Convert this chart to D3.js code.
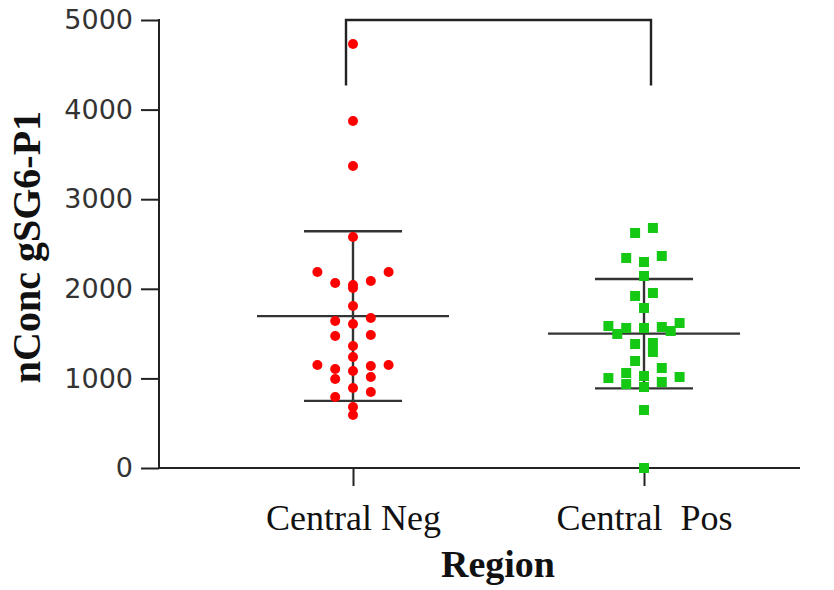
<!DOCTYPE html>
<html>
<head>
<meta charset="utf-8">
<script src="https://cdn.jsdelivr.net/npm/d3@7"></script>
<style>
  html, body { margin: 0; padding: 0; background: #fff; }
  svg { display: block; }
</style>
</head>
<body>
<svg id="chart" width="834" height="590"></svg>
<script>
// ---- data ----
const categories = ["Central Neg", "Central  Pos"];
const negValues = [4732, 3873, 3371, 2578, 2188, 2188, 2087, 2065, 2042, 2009,
                   1808, 1674, 1641, 1607, 1484, 1473, 1362, 1239, 1150, 1150,
                   1138, 1105, 1083, 1016, 993, 893, 848, 792, 681, 592];
const posValues = [2679, 2623, 2366, 2344, 2299, 2143, 1953, 1920, 1786, 1618,
                   1585, 1574, 1563, 1563, 1529, 1496, 1395, 1384, 1295, 1194,
                   1116, 1060, 1027, 1016, 1004, 960, 937, 904, 647, 0];
const yTicks = [0, 1000, 2000, 3000, 4000, 5000];
const yTitle = "nConc gSG6-P1";
const xTitle = "Region";

// ---- layout ----
const svg = d3.select("#chart");
const axisX0 = 159, axisX1 = 800;
const y = d3.scaleLinear().domain([0, 5000]).range([468, 20]);
const x = d3.scalePoint().domain(categories).range([353, 644]).padding(0);
const colStep = 17.8;
const binSize = 170;
const stroke = "#222";

// row-binned symmetric scatter layout
function layoutPoints(values) {
  const bins = d3.group(values.map((v, i) => ({v, i})), d => Math.floor(d.v / binSize));
  const out = [];
  for (const [, pts] of bins) {
    pts.sort((a, b) => a.v - b.v);
    const n = pts.length;
    const slots = [];
    if (n % 2 === 1) {
      slots.push(0);
      for (let k = 1; slots.length < n; k++) { slots.push(-k); if (slots.length < n) slots.push(k); }
    } else {
      for (let k = 0.5; slots.length < n; k++) { slots.push(-k); slots.push(k); }
    }
    pts.forEach((p, j) => out.push({v: p.v, off: slots[j]}));
  }
  return out;
}

// error bars (mean ± SD)
function drawSummary(cat, values) {
  const m = d3.mean(values), sd = d3.deviation(values);
  const cx = x(cat);
  const g = svg.append("g").attr("stroke", "#333").attr("stroke-width", 2.4).attr("fill", "none");
  g.append("line").attr("x1", cx).attr("x2", cx).attr("y1", y(m + sd)).attr("y2", y(m - sd));
  g.append("line").attr("x1", cx - 96).attr("x2", cx + 96).attr("y1", y(m)).attr("y2", y(m));
  g.append("line").attr("x1", cx - 49).attr("x2", cx + 49).attr("y1", y(m + sd)).attr("y2", y(m + sd));
  g.append("line").attr("x1", cx - 49).attr("x2", cx + 49).attr("y1", y(m - sd)).attr("y2", y(m - sd));
}

// axes
const yAxis = d3.axisLeft(y).tickValues(yTicks).tickSize(18).tickPadding(8).tickSizeOuter(0)
  .tickFormat(d3.format("d"));
const gy = svg.append("g").attr("transform", `translate(${axisX0},0)`).call(yAxis);
gy.select(".domain").remove();
gy.selectAll(".tick line").attr("stroke", stroke).attr("stroke-width", 2);
gy.selectAll(".tick text").attr("font-family", "DejaVu Sans, Verdana, sans-serif")
  .attr("font-size", 27).attr("fill", "#333");
svg.append("line").attr("x1", axisX0).attr("x2", axisX0).attr("y1", y(5000) - 1).attr("y2", y(0) + 1)
  .attr("stroke", stroke).attr("stroke-width", 2);

const xAxis = d3.axisBottom(x).tickSize(18).tickPadding(12).tickSizeOuter(0);
const gx = svg.append("g").attr("transform", `translate(0,${y(0)})`).call(xAxis);
gx.select(".domain").remove();
gx.selectAll(".tick line").attr("stroke", stroke).attr("stroke-width", 2);
gx.selectAll(".tick text").attr("font-family", "Liberation Serif, Times New Roman, serif")
  .attr("font-size", 36).attr("fill", "#111").attr("dy", "0.9em").style("white-space", "pre");
svg.append("line").attr("x1", axisX0).attr("x2", axisX1).attr("y1", y(0)).attr("y2", y(0))
  .attr("stroke", stroke).attr("stroke-width", 2);

// titles
svg.append("text").attr("transform", `translate(40,${(y(0) + y(5000)) / 2 + 3}) rotate(-90)`)
  .attr("text-anchor", "middle").attr("font-family", "Liberation Serif, Times New Roman, serif")
  .attr("font-weight", "bold").attr("font-size", 40).attr("fill", "#111").text(yTitle);
svg.append("text").attr("x", 498).attr("y", 577).attr("text-anchor", "middle")
  .attr("font-family", "Liberation Serif, Times New Roman, serif")
  .attr("font-weight", "bold").attr("font-size", 38).attr("fill", "#111").text(xTitle);

// significance bracket
const bTop = y(5000), bBot = y(4270);
svg.append("path")
  .attr("d", `M${x(categories[0]) - 7},${bBot} V${bTop} H${x(categories[1]) + 7} V${bBot}`)
  .attr("fill", "none").attr("stroke", stroke).attr("stroke-width", 2.4);

drawSummary(categories[0], negValues);
drawSummary(categories[1], posValues);

// points
svg.append("g").selectAll("circle").data(layoutPoints(negValues)).join("circle")
  .attr("cx", d => x(categories[0]) + d.off * colStep).attr("cy", d => y(d.v))
  .attr("r", 5).attr("fill", "#ff0000");
svg.append("g").selectAll("rect").data(layoutPoints(posValues)).join("rect")
  .attr("x", d => x(categories[1]) + d.off * colStep - 5).attr("y", d => y(d.v) - 5)
  .attr("width", 10).attr("height", 10).attr("fill", "#14c814");
</script>
</body>
</html>
